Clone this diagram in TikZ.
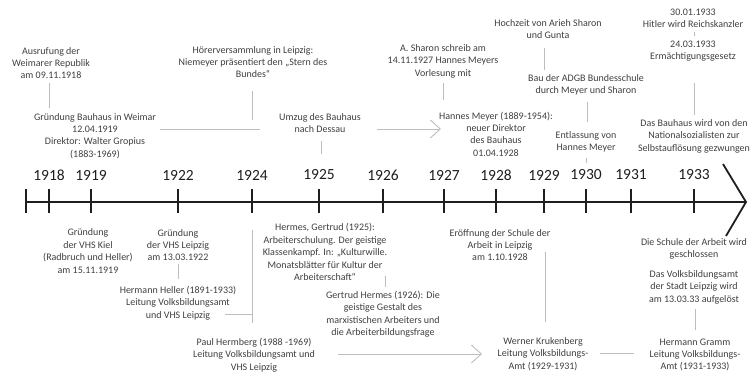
\documentclass[tikz,border=0pt]{standalone}
\usepackage{fontspec}
\setmainfont{Carlito}
\usetikzlibrary{arrows.meta}
\definecolor{txt}{HTML}{3F3F3F}
\definecolor{ln}{HTML}{BDBDBD}
\definecolor{axis}{HTML}{1E1E1E}
\tikzset{
  lbl/.style={align=center, inner sep=0pt, text=txt, font=\fontsize{10}{12.4}\selectfont},
  yr/.style={inner sep=0pt, text=axis, font=\fontsize{15.5}{16}\selectfont},
  conn/.style={draw=ln, line width=0.9pt},
  carrow/.style={conn, -{Straight Barb[length=10pt,width=18pt,line width=0.9pt]}},
  tickline/.style={draw=axis, line width=1.8pt},
  axisline/.style={draw=axis, line width=1.8pt}
}
\begin{document}
\begin{tikzpicture}[x=1pt,y=-1pt]
\useasboundingbox (0,0) rectangle (753,376);
% axis
\coordinate (ax0) at (26,202);
\coordinate (ax1) at (746,202);
\coordinate (chA) at (723,164);
\coordinate (chB) at (726,236);
\draw[axisline] (ax0) -- (ax1);
\draw[axisline, line join=miter] (chA) -- (ax1) -- (chB);
\draw[tickline] (26,189) -- (26,213);
\foreach \x/\y in {49/1918, 91/1919, 178/1922, 252/1924, 319/1925, 383/1926, 444/1927, 496/1928, 544/1929, 586/1930, 631/1931, 694/1933}{
  \coordinate (t\y) at (\x,202);
  \draw[tickline] (\x,189) -- (\x,213);
  \node[yr] (y\y) at (\x,175) {\y};
}
% top labels
\node[lbl] (n1) at (51,63) {Ausrufung der\\Weimarer Republik\\am 09.11.1918};
\node[lbl] (n2) at (95,136) {Gründung Bauhaus in Weimar\\12.04.1919\\Direktor: Walter Gropius\\(1883-1969)};
\node[lbl] (n3) at (253,62) {Hörerversammlung in Leipzig:\\Niemeyer präsentiert den „Stern des\\Bundes“};
\node[lbl] (n4) at (320,123) {Umzug des Bauhaus\\nach Dessau};
\node[lbl] (n5) at (443,61) {A. Sharon schreib am\\14.11.1927 Hannes Meyers\\Vorlesung mit};
\node[lbl] (n6) at (496,134) {Hannes Meyer (1889-1954):\\neuer Direktor\\des Bauhaus\\01.04.1928};
\node[lbl] (n7) at (548,29) {Hochzeit von Arieh Sharon\\und Gunta};
\node[lbl] (n8) at (586,85) {Bau der ADGB Bundesschule\\durch Meyer und Sharon};
\node[lbl] (n9) at (586,142) {Entlassung von\\Hannes Meyer};
\node[lbl] (n10) at (693,18) {30.01.1933\\Hitler wird Reichskanzler};
\node[lbl] (n11) at (693,51) {24.03.1933\\Ermächtigungsgesetz};
\node[lbl] (n12) at (694,136) {Das Bauhaus wird von den\\Nationalsozialisten zur\\Selbstauflösung gezwungen};
% bottom labels
\node[lbl] (b1) at (88,251) {Gründung\\der VHS Kiel\\(Radbruch und Heller)\\am 15.11.1919};
\node[lbl] (b2) at (178,245) {Gründung\\der VHS Leipzig\\am 13.03.1922};
\node[lbl] (b3) at (178,303) {Hermann Heller (1891-1933)\\Leitung Volksbildungsamt\\und VHS Leipzig};
\node[lbl] (b4) at (254,355) {Paul Hermberg (1988 -1969)\\Leitung Volksbildungsamt und\\VHS Leipzig};
\node[lbl] (b5) at (325,252) {Hermes, Gertrud (1925):\\Arbeiterschulung. Der geistige\\Klassenkampf. In: „Kulturwille.\\Monatsblätter für Kultur der\\Arbeiterschaft“};
\node[lbl] (b6) at (383,314) {Gertrud Hermes (1926): Die\\geistige Gestalt des\\marxistischen Arbeiters und\\die Arbeiterbildungsfrage};
\node[lbl] (b7) at (500,245) {Eröffnung der Schule der\\Arbeit in Leipzig\\am 1.10.1928};
\node[lbl] (b8) at (543,354) {Werner Krukenberg\\Leitung Volksbildungs-\\Amt (1929-1931)};
\node[lbl] (b9) at (694,249) {Die Schule der Arbeit wird\\geschlossen};
\node[lbl] (b10) at (694,287) {Das Volksbildungsamt\\der Stadt Leipzig wird\\am 13.03.33 aufgelöst};
\node[lbl] (b11) at (695,355) {Hermann Gramm\\Leitung Volksbildungs-\\Amt (1931-1933)};
% connector end points
\coordinate (c1a) at (49,83);  \coordinate (c1b) at (49,108);
\coordinate (c2a) at (160,129); \coordinate (c2b) at (260,129);
\coordinate (c3a) at (252,91); \coordinate (c3b) at (252,120);
\coordinate (c4a) at (321,141); \coordinate (c4b) at (321,154);
\coordinate (c5a) at (377,129); \coordinate (c5b) at (441,129);
\coordinate (c6a) at (443,83); \coordinate (c6b) at (443,100);
\coordinate (c7a) at (544,48); \coordinate (c7b) at (544,70);
\coordinate (c8a) at (587,102); \coordinate (c8b) at (587,122);
\coordinate (c9a) at (586,158); \coordinate (c9b) at (586,163);
\coordinate (c10a) at (694,32); \coordinate (c10b) at (694,36);
\coordinate (c11a) at (694,83); \coordinate (c11b) at (694,115);
\coordinate (d1a) at (178,264); \coordinate (d1b) at (178,279);
\coordinate (d2a) at (252,230); \coordinate (d2b) at (252,323);
\coordinate (d3a) at (225,314); \coordinate (d3b) at (252,314);
\coordinate (d4a) at (385,276); \coordinate (d4b) at (385,287);
\coordinate (d5a) at (338,354); \coordinate (d5b) at (482,354);
\coordinate (d6a) at (545,252); \coordinate (d6b) at (545,322);
\coordinate (d7a) at (600,353); \coordinate (d7b) at (634,353);
\coordinate (d8a) at (695,309); \coordinate (d8b) at (695,330);
% connectors
\draw[conn] (c1a) -- (c1b);
\draw[conn] (c2a) -- (c2b);
\draw[conn] (c3a) -- (c3b);
\draw[conn] (c4a) -- (c4b);
\draw[carrow] (c5a) -- (c5b);
\draw[conn] (c6a) -- (c6b);
\draw[conn] (c7a) -- (c7b);
\draw[conn] (c8a) -- (c8b);
\draw[conn] (c9a) -- (c9b);
\draw[conn] (c10a) -- (c10b);
\draw[conn] (c11a) -- (c11b);
\draw[conn] (d1a) -- (d1b);
\draw[conn] (d2a) -- (d2b);
\draw[conn] (d3a) -- (d3b);
\draw[conn] (d4a) -- (d4b);
\draw[carrow] (d5a) -- (d5b);
\draw[conn] (d6a) -- (d6b);
\draw[conn] (d7a) -- (d7b);
\draw[conn] (d8a) -- (d8b);
\end{tikzpicture}
\end{document}
